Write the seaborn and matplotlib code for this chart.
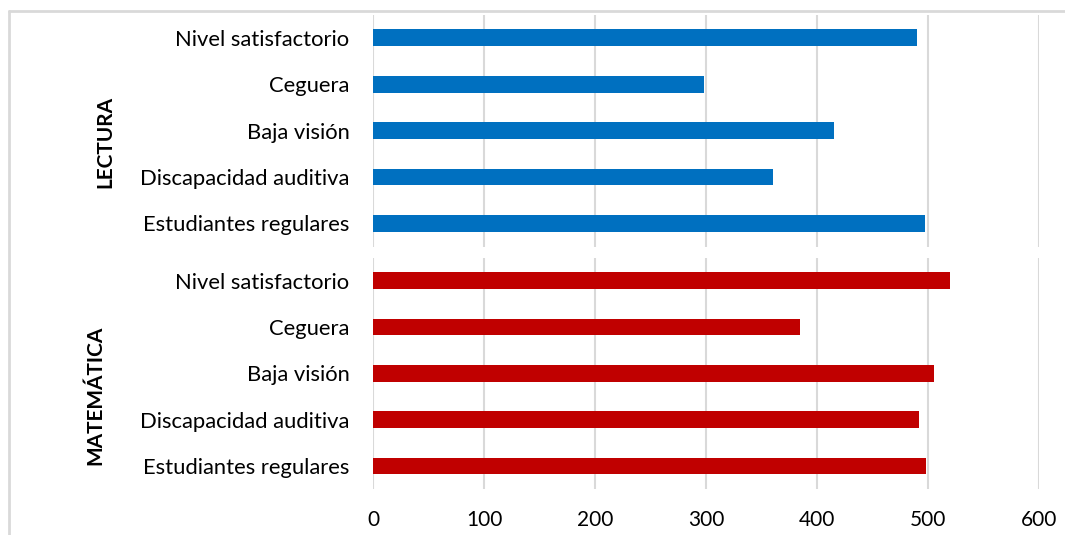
import matplotlib.pyplot as plt
import pandas as pd
import seaborn as sns
from matplotlib.lines import Line2D

# data, listed top to bottom
categorias = ["Nivel satisfactorio", "Ceguera", "Baja visión",
              "Discapacidad auditiva", "Estudiantes regulares"]
lectura = [490, 298, 415, 360, 497]
matematica = [520, 385, 505, 492, 498]
x_ticks = [0, 100, 200, 300, 400, 500, 600]

AZUL = "#0070C0"
ROJO = "#C00000"
GRIS = "#d9d9d9"

sns.set_theme(style="white")
plt.rcParams["font.family"] = ["Lato", "DejaVu Sans"]

fig = plt.figure(figsize=(10.65, 5.35), dpi=100)
W, H = 1065, 535


def make_axes(top_px, bottom_px):
    left, right = 373 / W, 1039 / W
    return fig.add_axes([left, 1 - bottom_px / H, right - left, (bottom_px - top_px) / H])


ax_top = make_axes(14.5, 246.7)
ax_bot = make_axes(257.5, 489.2)

panels = [
    (ax_top, lectura, AZUL, "LECTURA", 105, 142),
    (ax_bot, matematica, ROJO, "MATEMÁTICA", 95, 395),
]

for ax, vals, col, grupo, gx, gy in panels:
    df = pd.DataFrame({"categoria": categorias, "valor": vals})
    sns.barplot(data=df, x="valor", y="categoria", orient="h", color=col,
                width=0.36, saturation=1, edgecolor="none", ax=ax)
    ax.set_xlim(0, 600)
    ax.set_xticks(x_ticks)
    ax.set_xlabel("")
    ax.set_ylabel("")
    ax.grid(axis="x", color=GRIS, linewidth=1.5)
    ax.grid(axis="y", visible=False)
    ax.set_axisbelow(True)
    for s in ax.spines.values():
        s.set_visible(False)
    ax.tick_params(axis="y", length=0, pad=17, labelsize=15.8, labelcolor="#000000")
    ax.tick_params(axis="x", length=0, pad=15, labelsize=15, labelcolor="#000000")
    fig.text(gx / W, 1 - gy / H, grupo, rotation=90, ha="center", va="center",
             fontsize=15, fontweight="bold", color="#000000")

ax_top.tick_params(axis="x", labelbottom=False)

# chart area border (light gray), as in the original
fig.add_artist(Line2D([9 / W, 1], [1 - 11 / H, 1 - 11 / H], color=GRIS, linewidth=2,
                      transform=fig.transFigure))
fig.add_artist(Line2D([9 / W, 9 / W], [0, 1 - 11 / H], color=GRIS, linewidth=2,
                      transform=fig.transFigure))

fig.savefig("out.png", dpi=100)
